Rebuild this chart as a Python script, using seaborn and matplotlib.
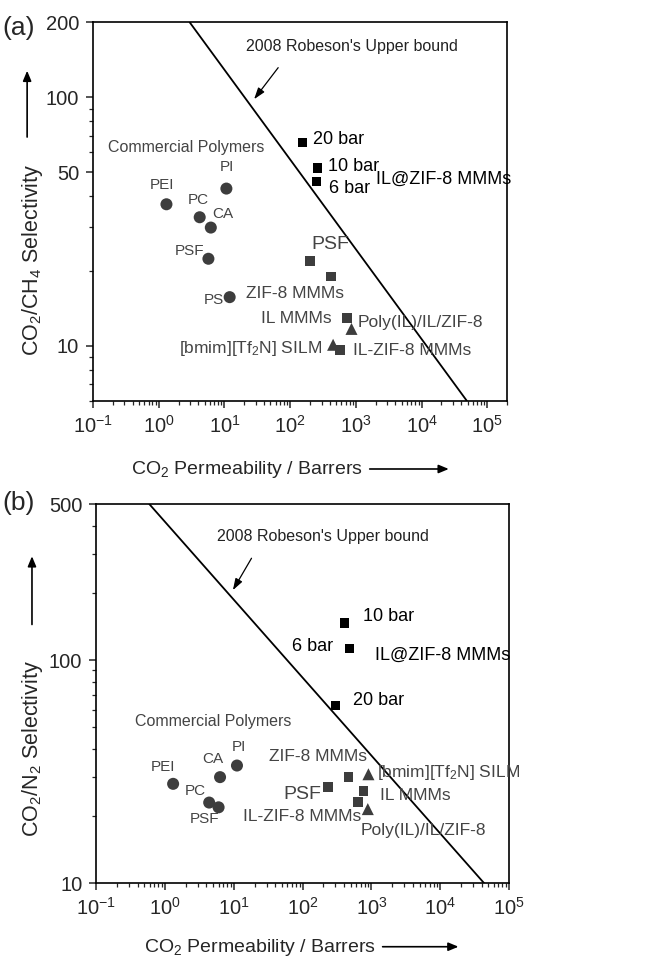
import matplotlib
matplotlib.use("Agg")
import matplotlib.pyplot as plt
import seaborn as sns
from matplotlib.ticker import FixedLocator, FixedFormatter, NullFormatter, LogLocator

# --- data, panel (a): CO2/CH4 ---
a_poly_names = ["PEI", "PC", "CA", "PI", "PSF", "PS"]
a_poly_perm = [1.31, 4.2, 6.2, 10.7, 5.7, 12.0]
a_poly_sel = [37.1, 32.9, 29.9, 42.9, 22.4, 15.7]

a_il_names = ["20 bar", "10 bar", "6 bar"]
a_il_perm = [154, 260, 251]
a_il_sel = [65.9, 51.9, 45.9]

a_mmm_names = ["PSF", "ZIF-8 MMMs", "IL MMMs", "IL-ZIF-8 MMMs"]
a_mmm_perm = [201, 415, 735, 569]
a_mmm_sel = [21.9, 19.0, 12.9, 9.6]

a_tri_names = ["Poly(IL)/IL/ZIF-8", "[bmim][Tf2N] SILM"]
a_tri_perm = [857, 450]
a_tri_sel = [11.7, 10.1]

a_bound_perm = [2.96, 49000]
a_bound_sel = [200, 6]

# --- data, panel (b): CO2/N2 ---
b_poly_names = ["PEI", "PC", "PSF", "CA", "PI"]
b_poly_perm = [1.31, 4.38, 6.0, 6.3, 11.1]
b_poly_sel = [27.9, 23.0, 21.9, 29.9, 33.7]

b_il_names = ["10 bar", "6 bar", "20 bar"]
b_il_perm = [401, 474, 300]
b_il_sel = [146.5, 112.4, 62.6]

b_mmm_names = ["PSF", "ZIF-8 MMMs", "IL MMMs", "IL-ZIF-8 MMMs"]
b_mmm_perm = [232, 463, 765, 633]
b_mmm_sel = [26.9, 30.0, 25.9, 23.1]

b_tri_names = ["[bmim][Tf2N] SILM", "Poly(IL)/IL/ZIF-8"]
b_tri_perm = [904, 885]
b_tri_sel = [30.8, 21.5]

b_bound_perm = [0.59, 43600]
b_bound_sel = [500, 10]

x_ticks = [1e-1, 1e0, 1e1, 1e2, 1e3, 1e4, 1e5]
x_ticklabels = ["$10^{-1}$", "$10^{0}$", "$10^{1}$", "$10^{2}$", "$10^{3}$", "$10^{4}$", "$10^{5}$"]
a_yticks = [10, 50, 100, 200]
b_yticks = [10, 100, 500]

# --- style ---
sns.set_style("ticks")
plt.rcParams['font.family'] = ['Liberation Sans', 'DejaVu Sans']
plt.rcParams['mathtext.fontset'] = 'custom'
plt.rcParams['mathtext.rm'] = 'Liberation Sans'
plt.rcParams['mathtext.it'] = 'Liberation Sans:italic'
plt.rcParams['mathtext.default'] = 'regular'

GRAY = "#3d3d3d"
TXT = "#444444"

fig = plt.figure(figsize=(6.46, 9.71), dpi=100)
ax_a = fig.add_axes([0.144, 0.587, 0.641, 0.390])
ax_b = fig.add_axes([0.149, 0.0903, 0.639, 0.3906])


def draw_points(ax, poly, il, mmm, tri, bound):
    ax.set_xscale("log")
    ax.set_yscale("log")
    sns.lineplot(x=bound[0], y=bound[1], color="black", lw=1.3, ax=ax, zorder=2)
    sns.scatterplot(x=poly[0], y=poly[1], marker="o", s=75, color=GRAY,
                    edgecolor="none", ax=ax, zorder=3)
    sns.scatterplot(x=mmm[0], y=mmm[1], marker="s", s=50, color=GRAY,
                    edgecolor="none", ax=ax, zorder=3)
    sns.scatterplot(x=tri[0], y=tri[1], marker="^", s=75, color=GRAY,
                    edgecolor="none", ax=ax, zorder=3)
    sns.scatterplot(x=il[0], y=il[1], marker="s", s=44, color="black",
                    edgecolor="none", ax=ax, zorder=4)


def style_axes(ax, xlim, ylim, yticks, yminor):
    ax.set_xlim(*xlim)
    ax.set_ylim(*ylim)
    ax.xaxis.set_major_locator(FixedLocator(x_ticks))
    ax.xaxis.set_major_formatter(FixedFormatter(x_ticklabels))
    ax.xaxis.set_minor_locator(LogLocator(base=10, subs=range(2, 10), numticks=20))
    ax.xaxis.set_minor_formatter(NullFormatter())
    ax.yaxis.set_major_locator(FixedLocator(yticks))
    ax.yaxis.set_major_formatter(FixedFormatter([str(t) for t in yticks]))
    ax.yaxis.set_minor_locator(FixedLocator(yminor))
    ax.yaxis.set_minor_formatter(NullFormatter())
    ax.tick_params(which="major", direction="out", length=5, width=1.1, labelsize=14.5, pad=5)
    ax.tick_params(which="minor", direction="out", length=3, width=0.9)
    ax.tick_params(top=False, right=False)
    for sp in ax.spines.values():
        sp.set_visible(True)
        sp.set_linewidth(1.2)
        sp.set_color("black")
    ax.set_xlabel("")
    ax.set_ylabel("")


def arrow(x0, y0, x1, y1):
    fig.add_artist(matplotlib.patches.FancyArrowPatch(
        (x0, y0), (x1, y1), transform=fig.transFigure,
        arrowstyle="-|>,head_length=6,head_width=2.5", color="black", lw=1.2))


# --- panel (a) ---
draw_points(ax_a, (a_poly_perm, a_poly_sel), (a_il_perm, a_il_sel),
            (a_mmm_perm, a_mmm_sel), (a_tri_perm, a_tri_sel), (a_bound_perm, a_bound_sel))
style_axes(ax_a, (0.1, 2e5), (6, 200), a_yticks,
           [6, 7, 8, 9, 20, 30, 40, 60, 70, 80, 90])

t = ax_a.transAxes
ax_a.annotate("2008 Robeson's Upper bound", xy=(0.389, 0.797), xycoords=t,
              xytext=(0.625, 0.935), textcoords=t, ha="center", va="center",
              fontsize=11.5, color="#222222",
              arrowprops=dict(arrowstyle="-|>,head_length=0.6,head_width=0.2",
                              color="black", lw=0.9, shrinkA=9, shrinkB=0,
                              relpos=(0.2, 0.0)))
ax_a.text(0.224, 0.669, "Commercial Polymers", transform=t, ha="center", va="center", fontsize=11.5, color=TXT)
ax_a.text(0.167, 0.570, "PEI", transform=t, ha="center", va="center", fontsize=11, color=TXT)
ax_a.text(0.254, 0.530, "PC", transform=t, ha="center", va="center", fontsize=11, color=TXT)
ax_a.text(0.314, 0.495, "CA", transform=t, ha="center", va="center", fontsize=11, color=TXT)
ax_a.text(0.324, 0.617, "PI", transform=t, ha="center", va="center", fontsize=11, color=TXT)
ax_a.text(0.234, 0.397, "PSF", transform=t, ha="center", va="center", fontsize=11, color=TXT)
ax_a.text(0.316, 0.268, "PS", transform=t, ha="right", va="center", fontsize=11, color=TXT)
ax_a.text(0.532, 0.690, "20 bar", transform=t, ha="left", va="center", fontsize=13, color="black")
ax_a.text(0.568, 0.618, "10 bar", transform=t, ha="left", va="center", fontsize=13, color="black")
ax_a.text(0.570, 0.561, "6 bar", transform=t, ha="left", va="center", fontsize=13, color="black")
ax_a.text(0.683, 0.586, "IL@ZIF-8 MMMs", transform=t, ha="left", va="center", fontsize=13, color="black")
ax_a.text(0.528, 0.413, "PSF", transform=t, ha="left", va="center", fontsize=14, color=TXT)
ax_a.text(0.487, 0.284, "ZIF-8 MMMs", transform=t, ha="center", va="center", fontsize=12.5, color=TXT)
ax_a.text(0.490, 0.218, "IL MMMs", transform=t, ha="center", va="center", fontsize=12.5, color=TXT)
ax_a.text(0.638, 0.207, "Poly(IL)/IL/ZIF-8", transform=t, ha="left", va="center", fontsize=12.5, color=TXT)
ax_a.text(0.552, 0.139, "[bmim][Tf$_2$N] SILM", transform=t, ha="right", va="center", fontsize=12.5, color=TXT)
ax_a.text(0.627, 0.133, "IL-ZIF-8 MMMs", transform=t, ha="left", va="center", fontsize=12.5, color=TXT)

# --- panel (b) ---
draw_points(ax_b, (b_poly_perm, b_poly_sel), (b_il_perm, b_il_sel),
            (b_mmm_perm, b_mmm_sel), (b_tri_perm, b_tri_sel), (b_bound_perm, b_bound_sel))
style_axes(ax_b, (0.1, 1e5), (10, 500), b_yticks,
           [20, 30, 40, 50, 60, 70, 80, 90, 200, 300, 400])

t = ax_b.transAxes
ax_b.annotate("2008 Robeson's Upper bound", xy=(0.331, 0.773), xycoords=t,
              xytext=(0.550, 0.914), textcoords=t, ha="center", va="center",
              fontsize=11.5, color="#222222",
              arrowprops=dict(arrowstyle="-|>,head_length=0.6,head_width=0.2",
                              color="black", lw=0.9, shrinkA=9, shrinkB=0,
                              relpos=(0.2, 0.0)))
ax_b.text(0.646, 0.703, "10 bar", transform=t, ha="left", va="center", fontsize=13, color="black")
ax_b.text(0.575, 0.624, "6 bar", transform=t, ha="right", va="center", fontsize=13, color="black")
ax_b.text(0.676, 0.602, "IL@ZIF-8 MMMs", transform=t, ha="left", va="center", fontsize=13, color="black")
ax_b.text(0.621, 0.483, "20 bar", transform=t, ha="left", va="center", fontsize=13, color="black")
ax_b.text(0.283, 0.426, "Commercial Polymers", transform=t, ha="center", va="center", fontsize=11.5, color=TXT)
ax_b.text(0.161, 0.307, "PEI", transform=t, ha="center", va="center", fontsize=11, color=TXT)
ax_b.text(0.282, 0.327, "CA", transform=t, ha="center", va="center", fontsize=11, color=TXT)
ax_b.text(0.346, 0.360, "PI", transform=t, ha="center", va="center", fontsize=11, color=TXT)
ax_b.text(0.241, 0.243, "PC", transform=t, ha="center", va="center", fontsize=11, color=TXT)
ax_b.text(0.262, 0.169, "PSF", transform=t, ha="center", va="center", fontsize=11, color=TXT)
ax_b.text(0.538, 0.334, "ZIF-8 MMMs", transform=t, ha="center", va="center", fontsize=12.5, color=TXT)
ax_b.text(0.680, 0.292, "[bmim][Tf$_2$N] SILM", transform=t, ha="left", va="center", fontsize=12.5, color=TXT)
ax_b.text(0.546, 0.235, "PSF", transform=t, ha="right", va="center", fontsize=14, color=TXT)
ax_b.text(0.688, 0.231, "IL MMMs", transform=t, ha="left", va="center", fontsize=12.5, color=TXT)
ax_b.text(0.643, 0.176, "IL-ZIF-8 MMMs", transform=t, ha="right", va="center", fontsize=12.5, color=TXT)
ax_b.text(0.792, 0.138, "Poly(IL)/IL/ZIF-8", transform=t, ha="center", va="center", fontsize=12.5, color=TXT)

# --- panel tags, axis titles and their arrows ---
fig.text(0.003, 0.971, "(a)", ha="left", va="center", fontsize=19)
fig.text(0.003, 0.482, "(b)", ha="left", va="center", fontsize=19)

fig.text(0.051, 0.732, "CO$_2$/CH$_4$ Selectivity", rotation=90, ha="center", va="center", fontsize=15.5)
arrow(0.042, 0.856, 0.042, 0.930)
fig.text(0.382, 0.516, "CO$_2$ Permeability / Barrers", ha="center", va="center", fontsize=14)
arrow(0.568, 0.517, 0.699, 0.517)

fig.text(0.051, 0.229, "CO$_2$/N$_2$ Selectivity", rotation=90, ha="center", va="center", fontsize=15.5)
arrow(0.0495, 0.354, 0.0495, 0.430)
fig.text(0.402, 0.024, "CO$_2$ Permeability / Barrers", ha="center", va="center", fontsize=14)
arrow(0.588, 0.025, 0.714, 0.025)

fig.savefig("out.png", dpi=100)
